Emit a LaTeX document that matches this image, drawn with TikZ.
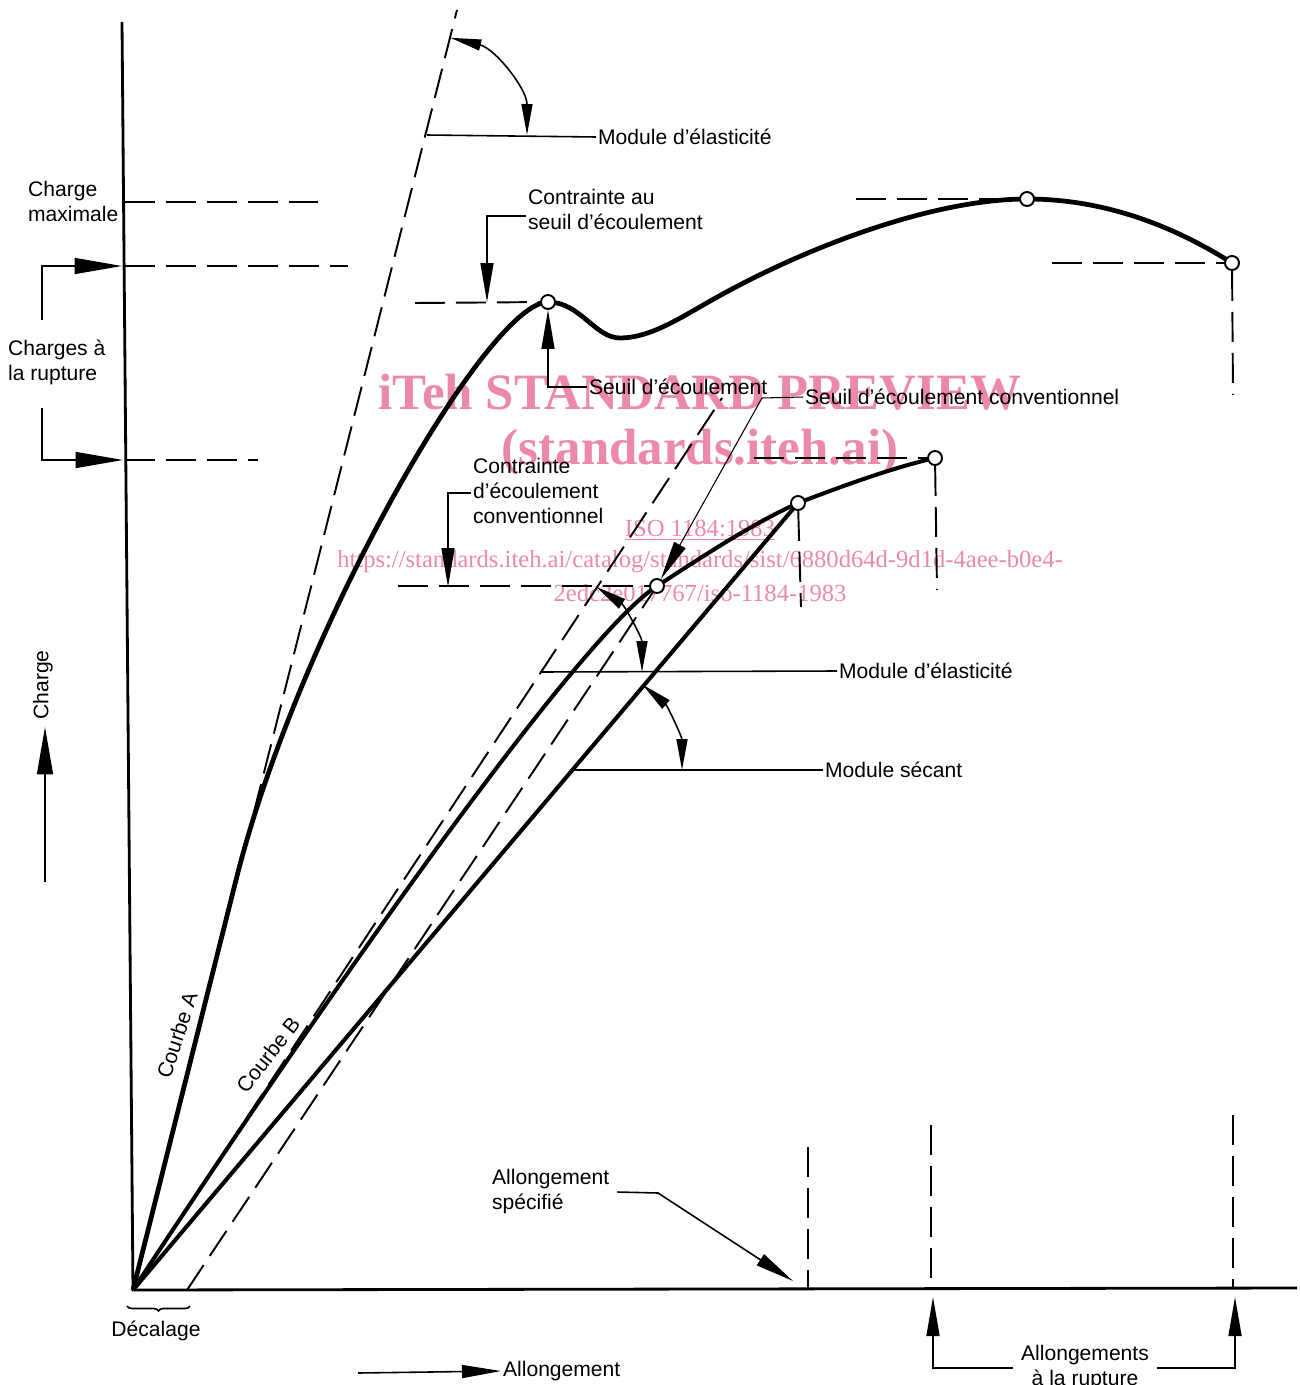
\documentclass[tikz,border=0pt]{standalone}
\usepackage{fontspec}
\setmainfont{Liberation Sans}
\newfontfamily\wmfont{Liberation Serif}
\usetikzlibrary{arrows.meta,decorations.pathreplacing}
\definecolor{wmpink}{RGB}{236,136,168}

\tikzset{
  axisline/.style={line width=1.6pt},
  loadcurve/.style={line width=2.7pt, line join=round},
  secline/.style={line width=2.3pt},
  guide/.style={line width=1.1pt, dash pattern=on 0.6cm off 0.22cm},
  leader/.style={line width=0.9pt},
  thinlead/.style={line width=0.6pt},
  openpt/.style={circle, draw, fill=white, line width=1.1pt, inner sep=0pt, minimum size=0.28cm},
  lbl/.style={font=\fontsize{12}{14.2}\selectfont, inner sep=1pt, align=left},
  headL/.style={-{Triangle[length=0.95cm,width=0.32cm]}},
  headM/.style={-{Triangle[length=0.78cm,width=0.26cm]}},
  headS/.style={{Triangle[length=0.62cm,width=0.22cm]}-{Triangle[length=0.62cm,width=0.22cm]}},
  wm/.style={text=wmpink, inner sep=0pt}
}

\begin{document}
\begin{tikzpicture}[x=0.02cm,y=-0.02cm]
\useasboundingbox (0,0) rectangle (1300,1385);

% watermark
\node[wm, font=\wmfont\bfseries\fontsize{29}{32}\selectfont] (wm1) at (700,392) {iTeh STANDARD PREVIEW};
\node[wm, font=\wmfont\bfseries\fontsize{29}{32}\selectfont] (wm2) at (700,452) {(standards.iteh.ai)};
\node[wm, font=\wmfont\fontsize{14}{16}\selectfont] (wm3) at (700,530) {\underline{ISO 1184:1983}};
\node[wm, font=\wmfont\fontsize{14}{16}\selectfont] (wm4) at (700,562) {https://standards.iteh.ai/catalog/standards/sist/6880d64d-9d1d-4aee-b0e4-};
\node[wm, font=\wmfont\fontsize{14}{16}\selectfont] (wm5) at (700,593) {2edc2e017767/iso-1184-1983};

% axes
\coordinate (O) at (133,1290);
\coordinate (ytop) at (122,22);
\coordinate (xend) at (1297,1288);
\draw[axisline] (ytop) -- (O) -- (xend);

% points on the curves
\coordinate (yA) at (548,302);
\coordinate (maxA) at (1027,199);
\coordinate (rupA) at (1232,263);
\coordinate (cyB) at (657,586);
\coordinate (spB) at (798,503);
\coordinate (rupB) at (935,458);

% curve A
\draw[loadcurve] (O) -- (236,880) .. controls (298.5,630) and (488,302) .. (yA)
  .. controls (580,302) and (595,338) .. (620,338)
  .. controls (650,338) and (680,318) .. (712,300)
  .. controls (800,250) and (930,199) .. (maxA)
  .. controls (1110,199) and (1180,230) .. (rupA);

% curve B and secant
\draw[loadcurve, line width=2.3pt] (O) .. controls (370,930) and (587,631) .. (cyB)
  .. controls (705,555) and (750,525) .. (spB)
  .. controls (845,485) and (895,467) .. (rupB);
\draw[secline] (O) -- (spB);

% open points
\node[openpt] (yAc) at (yA) {};
\node[openpt] (maxAc) at (maxA) {};
\node[openpt] (rupAc) at (rupA) {};
\node[openpt] (cyBc) at (cyB) {};
\node[openpt] (spBc) at (spB) {};
\node[openpt] (rupBc) at (rupB) {};

% modulus and offset lines
\coordinate (tanA) at (457,10);
\coordinate (tanB) at (722,398);
\coordinate (offB) at (187,1290);
\draw[guide] (O) -- (tanA);
\draw[guide] (O) -- (tanB);
\draw[guide] (offB) -- (cyBc);

% load levels
\draw[guide] (125,202) -- (318,202);
\draw[guide] (125,266) -- (348,266);
\draw[guide] (125,460) -- (258,460);
\draw[guide] (415,303) -- (yAc);
\draw[guide] (856,199) -- (maxAc);
\draw[guide] (1052,263) -- (rupAc);
\draw[guide] (rupAc) -- (1233,395);
\draw[guide] (398,586) -- (cyBc);
\draw[guide] (754,458) -- (rupBc);
\draw[guide] (rupBc) -- (937,590);
\draw[guide] (spBc) -- (801,607);

% elongation levels
\draw[guide] (808,1147) -- (808,1288);
\draw[guide] (931,1125) -- (931,1288);
\draw[guide] (1233,1115) -- (1233,1288);

% module d'elasticite (A)
\node[lbl, anchor=west] (modAtxt) at (596,137) {Module d’élasticité};
\coordinate (modA) at (427,135);
\draw[leader] (modA) -- (modAtxt.west);
\draw[leader, headS] (450.3,37.8) .. controls (495.2,48.6) and (527,88.8) .. (527,135);

% charge maximale
\node[lbl, anchor=west] (cmax) at (26,201) {Charge\\maximale};

% charges a la rupture
\node[lbl, anchor=west] (chrup) at (6,362) {Charges à\\la rupture};
\coordinate (rupHi) at (122,266);
\coordinate (rupLo) at (123,460);
\draw[leader, headL] (42,320) |- (rupHi);
\draw[leader, headL] (42,408) |- (rupLo);

% charge axis label
\node[lbl, rotate=90] (chg) at (43,685) {Charge};
\coordinate (chgTip) at (45,727);
\draw[leader, headL] (45,882) -- (chgTip);

% contrainte au seuil
\node[lbl, anchor=west] (csTxt) at (526,209) {Contrainte au\\seuil d’écoulement};
\coordinate (csTip) at (487,302);
\draw[leader, headM] ([yshift=-0.14cm]csTxt.west) -| (csTip);

% seuil d'ecoulement
\node[lbl, anchor=west] (seTxt) at (587,387) {Seuil d’écoulement};
\draw[leader, headM] (seTxt.west) -| (yAc.south);

% seuil conventionnel
\node[lbl, anchor=west] (scTxt) at (803,397) {Seuil d’écoulement conventionnel};
\coordinate (scKnee) at (762,398);
\draw[thinlead, headM] (scTxt.west) -- (scKnee) -- (cyBc);

% contrainte conventionnelle
\node[lbl, anchor=west] (ccTxt) at (471,491) {Contrainte\\d’écoulement\\conventionnel};
\coordinate (ccTip) at (448,587);
\draw[leader, headM] ([yshift=-0.04cm]ccTxt.west) -| (ccTip);

% module d'elasticite (B)
\node[lbl, anchor=west] (modBtxt) at (837,671) {Module d’élasticité};
\coordinate (modB) at (540,672);
\draw[leader] (modB) -- (modBtxt.west);
\draw[leader, headS] (596.2,586.8) .. controls (624.8,605.7) and (642,637.7) .. (642,672);

% module secant
\node[lbl, anchor=west] (secTxt) at (823,770) {Module sécant};
\coordinate (secC) at (570,770);
\draw[leader] (secC) -- (secTxt.west);
\draw[leader, headS] (642.3,684.5) .. controls (667.5,705.8) and (682,737) .. (682,770);

% curve labels
\node[lbl, rotate=72] (lblA) at (177,1035) {Courbe A};
\node[lbl, rotate=52] (lblB) at (268,1055) {Courbe B};

% allongement specifie
\node[lbl, anchor=west] (asTxt) at (490,1192) {Allongement\\spécifié};
\coordinate (asKnee) at (658,1193);
\coordinate (asTip) at (793,1281);
\draw[leader, headM] ([xshift=0.12cm]asTxt.east) -- (asKnee) -- (asTip);

% decalage
\node[lbl] (dec) at (156,1331) {Décalage};
\draw[leader, decorate, decoration={brace, mirror, amplitude=0.1cm}] (127,1306) -- (190,1306);

% allongement axis label
\node[lbl, anchor=west] (elTxt) at (501,1371) {Allongement};
\draw[leader, headM] (358,1373) -- (elTxt.west);

% allongements a la rupture
\node[lbl, align=center] (arTxt) at (1085,1368) {Allongements\\à la rupture};
\coordinate (arL) at (933,1297);
\coordinate (arR) at (1235,1297);
\draw[leader, headM] ([xshift=-0.12cm]arTxt.west) -| (arL);
\draw[leader, headM] ([xshift=0.12cm]arTxt.east) -| (arR);

\end{tikzpicture}
\end{document}
